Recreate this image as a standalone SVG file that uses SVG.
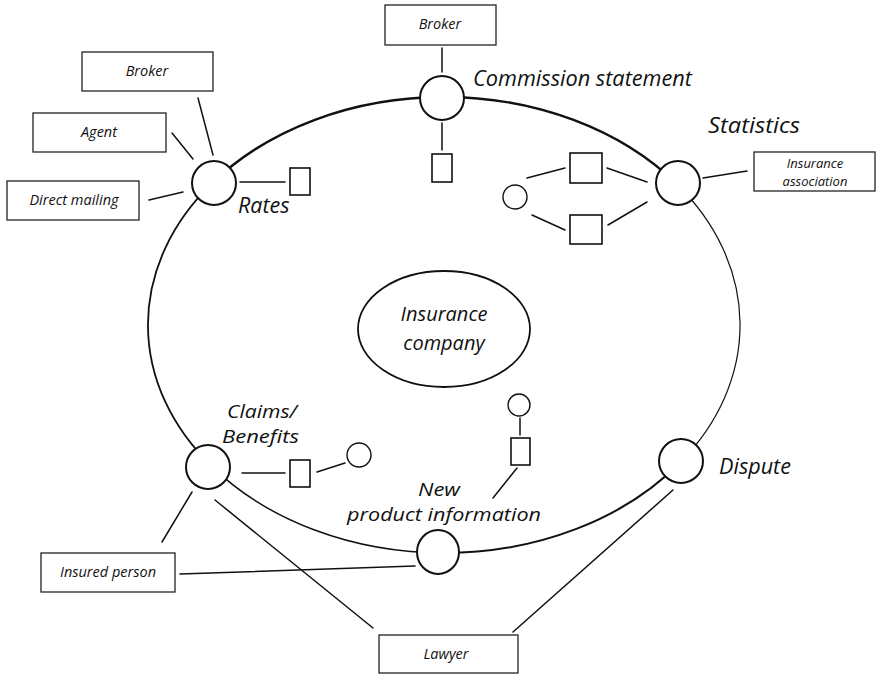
<svg xmlns="http://www.w3.org/2000/svg" width="876" height="675" viewBox="0 0 876 675">
<style>
  .ring{fill:none;stroke:#111;stroke-linecap:round}
  .node{fill:#fff;stroke:#111;stroke-width:2}
  .small{fill:#fff;stroke:#111;stroke-width:1.4}
  .box{fill:#fff;stroke:#222;stroke-width:1.3}
  .sq{fill:#fff;stroke:#111;stroke-width:1.6}
  .conn line{stroke:#111;stroke-width:1.5;stroke-linecap:round}
  .lbl{font-family:"Open Sans","DejaVu Sans",sans-serif;font-style:italic;font-size:21.5px;fill:#111}
  .lbl2{font-family:"Open Sans","DejaVu Sans",sans-serif;font-style:italic;font-size:17.5px;fill:#111}
  .bl{font-family:"Open Sans","DejaVu Sans",sans-serif;font-style:italic;font-size:14.5px;fill:#111;text-anchor:middle}
  .bl2{font-family:"Open Sans","DejaVu Sans",sans-serif;font-style:italic;font-size:13px;fill:#111;text-anchor:middle}
</style>
<rect width="876" height="675" fill="#fff"/>

<g id="ring">
  <path class="ring" stroke-width="2.4" d="M211.6,183.7 A296,228 0 0 1 444,97"/>
  <path class="ring" stroke-width="2.4" d="M444,97 A296,228 0 0 1 677,184.3"/>
  <path class="ring" stroke-width="1.2" d="M677,184.3 A296,228 0 0 1 680.8,461.8"/>
  <path class="ring" stroke-width="2" d="M680.8,461.8 A296,228 0 0 1 444,553"/>
  <path class="ring" stroke-width="1.5" d="M444,553 A296,228 0 0 1 211.3,465.9"/>
  <path class="ring" stroke-width="1.8" d="M211.3,465.9 A296,228 0 0 1 211.6,183.7"/>
</g>

<g id="connectors" class="conn">
  <line x1="198" y1="98" x2="213" y2="155"/>
  <line x1="172" y1="133" x2="193" y2="159"/>
  <line x1="149" y1="200" x2="183" y2="192"/>
  <line x1="240" y1="182" x2="285" y2="182"/>
  <line x1="442" y1="48" x2="442" y2="72"/>
  <line x1="442" y1="123" x2="442" y2="150"/>
  <line x1="527" y1="178" x2="565" y2="168"/>
  <line x1="532" y1="215" x2="565" y2="230"/>
  <line x1="607" y1="168" x2="647" y2="182"/>
  <line x1="608" y1="225" x2="647" y2="202"/>
  <line x1="703" y1="178" x2="747" y2="171"/>
  <line x1="242" y1="473" x2="285" y2="473"/>
  <line x1="317" y1="472" x2="345" y2="463"/>
  <line x1="520" y1="418" x2="520" y2="435"/>
  <line x1="517" y1="468" x2="493" y2="498"/>
  <line x1="192" y1="492" x2="162" y2="542"/>
  <line x1="215" y1="500" x2="373" y2="628" stroke-width="1.3"/>
  <line x1="180" y1="574" x2="415" y2="566" stroke-width="1.3"/>
  <line x1="673" y1="490" x2="513" y2="632" stroke-width="1.3"/>
</g>

<g id="center">
  <ellipse cx="444" cy="329" rx="86" ry="58" fill="#fff" stroke="#111" stroke-width="1.8"/>
  <text class="lbl" x="444" y="321" text-anchor="middle" style="font-size:20px">Insurance</text>
  <text class="lbl" x="444" y="350" text-anchor="middle" style="font-size:20px">company</text>
</g>

<g id="rates">
  <circle class="node" cx="214" cy="183" r="22"/>
  <text class="lbl" x="238" y="213">Rates</text>
  <rect class="sq" x="290" y="168" width="20" height="27"/>
</g>

<g id="commission">
  <circle class="node" cx="442" cy="98" r="22"/>
  <text class="lbl" x="473" y="86" textLength="219" lengthAdjust="spacingAndGlyphs">Commission statement</text>
  <rect class="sq" x="432" y="154" width="20" height="28"/>
</g>

<g id="statistics">
  <circle class="node" cx="678" cy="183" r="22"/>
  <text class="lbl" x="708" y="133" textLength="92" lengthAdjust="spacingAndGlyphs">Statistics</text>
  <circle class="small" cx="515" cy="197" r="12"/>
  <rect class="sq" x="570" y="153" width="32" height="30"/>
  <rect class="sq" x="570" y="215" width="32" height="29"/>
</g>

<g id="dispute">
  <circle class="node" cx="681" cy="461" r="22"/>
  <text class="lbl" x="719" y="474" textLength="72" lengthAdjust="spacingAndGlyphs">Dispute</text>
</g>

<g id="newproduct">
  <ellipse class="node" cx="438" cy="552" rx="21" ry="22"/>
  <text class="lbl2" x="418" y="496" textLength="42" lengthAdjust="spacingAndGlyphs">New</text>
  <text class="lbl2" x="347" y="521" textLength="194" lengthAdjust="spacingAndGlyphs">product information</text>
  <circle class="small" cx="519" cy="405" r="11"/>
  <rect class="sq" x="511" y="438" width="19" height="27"/>
</g>

<g id="claims">
  <circle class="node" cx="208" cy="467" r="22"/>
  <text class="lbl2" x="227" y="418" textLength="70" lengthAdjust="spacingAndGlyphs">Claims/</text>
  <text class="lbl2" x="222" y="443" textLength="77" lengthAdjust="spacingAndGlyphs">Benefits</text>
  <rect class="sq" x="290" y="460" width="20" height="27"/>
  <circle class="small" cx="359" cy="455" r="12"/>
</g>

<g id="broker1">
  <rect class="box" x="82" y="52" width="131" height="39"/>
  <text class="bl" x="147" y="76">Broker</text>
</g>
<g id="agent">
  <rect class="box" x="33" y="113" width="133" height="39"/>
  <text class="bl" x="99" y="137">Agent</text>
</g>
<g id="directmailing">
  <rect class="box" x="7" y="181" width="132" height="39"/>
  <text class="bl" x="74" y="205">Direct mailing</text>
</g>
<g id="broker2">
  <rect class="box" x="385" y="5" width="111" height="40"/>
  <text class="bl" x="440" y="29">Broker</text>
</g>
<g id="association">
  <rect class="box" x="754" y="152" width="121" height="39"/>
  <text class="bl2" x="815" y="168">Insurance</text>
  <text class="bl2" x="815" y="186">association</text>
</g>
<g id="insured">
  <rect class="box" x="41" y="553" width="134" height="39"/>
  <text class="bl" x="108" y="577">Insured person</text>
</g>
<g id="lawyer">
  <rect class="box" x="379" y="635" width="139" height="38"/>
  <text class="bl" x="446" y="659">Lawyer</text>
</g>
</svg>
